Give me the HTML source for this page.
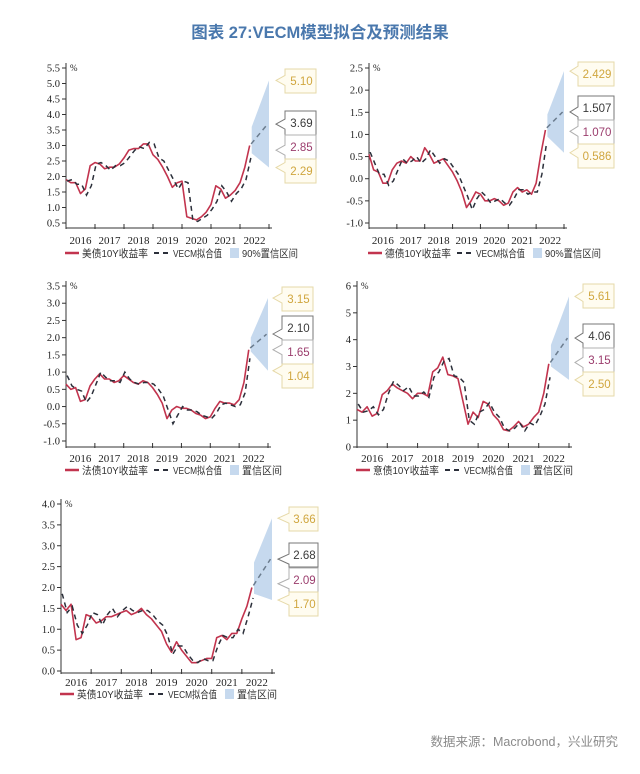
<!DOCTYPE html>
<html><head><meta charset="utf-8">
<style>
html,body{margin:0;padding:0;background:#fff;width:640px;height:774px;overflow:hidden}
svg{display:block}
</style></head>
<body>
<svg id="root" width="640" height="774" xmlns="http://www.w3.org/2000/svg">
<text x="320" y="38" text-anchor="middle" font-family="Liberation Sans, Noto Sans CJK SC, sans-serif" font-size="16.5" font-weight="bold" fill="#4a78ad">图表 27:VECM模型拟合及预测结果</text>
<text x="618" y="746" text-anchor="end" font-family="Liberation Sans, Noto Sans CJK SC, sans-serif" font-size="12.5" fill="#8a8a8a">数据来源：Macrobond，兴业研究</text>
</svg>
<script>
// ---- data (bi-monthly from Jan 2016) ----
const years = ["2016","2017","2018","2019","2020","2021","2022"];
const usActual = [1.9,1.8,1.8,1.45,1.6,2.35, 2.45,2.4,2.25,2.3,2.3,2.4, 2.6,2.85,2.9,2.9,3.05,3.05, 2.7,2.55,2.3,2.0,1.65,1.8, 1.85,0.7,0.65,0.6,0.7,0.85, 1.1,1.7,1.6,1.3,1.4,1.55, 1.8,2.3,3.0];
const usFitted = [1.85,1.9,1.75,1.75,1.4,1.7, 2.4,2.45,2.35,2.2,2.35,2.35, 2.45,2.65,2.85,2.95,2.9,3.1, 3.05,2.6,2.5,2.2,1.9,1.6, 1.85,1.8,0.6,0.55,0.65,0.75, 0.95,1.2,1.7,1.5,1.2,1.45, 1.6,1.9,2.6];
const usBand = [2.75,3.6,2.29,5.10];
const usCallouts = ["5.10","3.69","2.85","2.29"];
const usCallVals = [5.10,3.69,2.85,2.29];

const deActual = [0.55,0.2,0.15,-0.1,-0.1,0.2, 0.35,0.4,0.35,0.5,0.4,0.4, 0.7,0.55,0.35,0.4,0.45,0.3, 0.15,-0.05,-0.3,-0.65,-0.5,-0.3, -0.35,-0.5,-0.5,-0.45,-0.5,-0.6, -0.55,-0.3,-0.2,-0.3,-0.25,-0.35, -0.1,0.55,1.1];
const deFitted = [0.6,0.35,0.1,0.1,-0.15,-0.05, 0.2,0.45,0.35,0.4,0.5,0.35, 0.45,0.65,0.5,0.35,0.45,0.4, 0.25,0.1,-0.15,-0.4,-0.7,-0.45, -0.3,-0.4,-0.55,-0.5,-0.45,-0.55, -0.6,-0.45,-0.25,-0.25,-0.35,-0.3, -0.3,0.1,0.8];
const deBand = [0.95,1.45,0.586,2.429];
const deCallouts = ["2.429","1.507","1.070","0.586"];
const deCallVals = [2.429,1.507,1.070,0.586];

const frActual = [0.65,0.5,0.55,0.15,0.2,0.6, 0.8,0.95,0.8,0.8,0.7,0.75, 0.9,0.8,0.7,0.65,0.75,0.7, 0.55,0.35,0.1,-0.35,-0.1,0.0, -0.05,-0.05,-0.1,-0.2,-0.25,-0.35, -0.3,-0.05,0.15,0.1,0.1,0.05, 0.2,0.7,1.65];
const frFitted = [0.9,0.6,0.5,0.45,0.12,0.3, 0.65,1.0,0.85,0.75,0.75,0.7, 1.0,0.8,0.7,0.65,0.7,0.7, 0.65,0.5,0.3,-0.1,-0.5,-0.25, 0.0,-0.1,-0.1,-0.15,-0.25,-0.3, -0.35,-0.2,0.05,0.1,0.05,0.0, 0.05,0.4,1.4];
const frBand = [1.6,2.0,1.04,3.15];
const frCallouts = ["3.15","2.10","1.65","1.04"];
const frCallVals = [3.15,2.10,1.65,1.04];

const itActual = [1.4,1.3,1.5,1.15,1.25,1.95, 2.1,2.35,2.2,2.1,2.0,1.8, 2.0,2.0,1.9,2.8,2.95,3.35, 2.7,2.65,2.55,1.7,0.85,1.3, 1.1,1.7,1.6,1.2,1.0,0.65, 0.6,0.75,0.95,0.75,0.85,1.1, 1.3,2.0,3.1];
const itFitted = [1.6,1.3,1.35,1.5,1.2,1.4, 2.0,2.45,2.3,2.1,2.25,1.9, 1.9,2.05,1.85,2.6,2.8,3.2, 3.3,2.65,2.6,2.4,1.0,0.85, 1.3,1.4,1.65,1.3,1.1,0.7, 0.6,0.7,0.9,0.6,0.9,0.8, 1.15,1.6,2.6];
const itBand = [3.0,3.8,2.50,5.61];
const itCallouts = ["5.61","4.06","3.15","2.50"];
const itCallVals = [5.61,4.06,3.15,2.50];

const ukActual = [1.6,1.45,1.6,0.75,0.8,1.35, 1.3,1.15,1.2,1.3,1.3,1.35, 1.4,1.45,1.35,1.4,1.5,1.35, 1.25,1.1,0.95,0.65,0.45,0.7, 0.5,0.35,0.2,0.2,0.25,0.3, 0.3,0.8,0.85,0.75,0.9,0.9, 1.25,1.55,2.0];
const ukFitted = [1.85,1.4,1.55,1.1,0.9,1.1, 1.4,1.35,1.1,1.35,1.5,1.3, 1.45,1.55,1.45,1.4,1.45,1.45, 1.35,1.2,1.1,0.85,0.4,0.6, 0.6,0.4,0.25,0.2,0.3,0.25, 0.25,0.6,0.85,0.8,0.8,1.0, 0.9,1.3,1.75];
const ukBand = [1.85,2.6,1.70,3.66];
const ukCallouts = ["3.66","2.68","2.09","1.70"];
const ukCallVals = [3.66,2.68,2.09,1.70];

const NS = "http://www.w3.org/2000/svg";
const root = document.getElementById('root');
function mk(tag, attrs, parent){
  const e = document.createElementNS(NS, tag);
  for (const k in attrs) e.setAttribute(k, attrs[k]);
  (parent||root).appendChild(e);
  return e;
}
const serif = "Liberation Serif, serif";
const cjk = "Liberation Sans, Noto Sans CJK SC, sans-serif";

function drawChart(c){
  const g = mk('g', {});
  
  
  const xs = t => c.x0 + (t - 2016) * (c.x1 - c.x0) / 7;
  const ys = v => c.yTopPix + (c.yTopVal - v) * (c.yBotPix - c.yTopPix) / (c.yTopVal - c.yBotVal);
  const yAx = mk('line', {x1:c.x0, y1:c.yTopPix-5, x2:c.x0, y2:c.axisY, stroke:'#333', 'stroke-width':1}, g);
  
  
  const xAx = mk('line', {x1:c.x0, y1:c.axisY, x2:c.x1+3, y2:c.axisY, stroke:'#333', 'stroke-width':1}, g);
  
  
  for (const v of c.ticks){
    const y = ys(v);
    mk('line', {x1:c.x0-4, y1:y, x2:c.x0, y2:y, stroke:'#333'}, g);
    const tl = mk('text', {x:c.x0-6, y:y+3.5, 'text-anchor':'end', 'font-family':serif, 'font-size':10.5, fill:'#222'}, g);
    
    
    tl.textContent = c.fmt(v);
  }
  const pct = mk('text', {x:c.x0+4, y:c.yTopPix+3, 'font-family':serif, 'font-size':9, fill:'#222'}, g);
  
  
  pct.textContent = '%';
  for (let i=0;i<=7;i++){
    const x = xs(2016+i);
    mk('line', {x1:x, y1:c.axisY-4, x2:x, y2:c.axisY+1, stroke:'#333'}, g);
  }
  years.forEach((yr,i)=>{
    const t = mk('text', {x:xs(2016.5+i), y:c.labelY+4, 'text-anchor':'middle', 'font-family':serif, 'font-size':11, fill:'#222'}, g);
    
    
    t.textContent = yr;
  });
  const n = c.actual.length;
  const tOf = i => 2016 + i/6;
  const tEnd = tOf(n-1);
  const tb0 = tEnd + 0.07, tb1 = 2023;
  const band = mk('polygon', {points:[[xs(tb0),ys(c.band[1])],[xs(tb1),ys(c.band[3])],[xs(tb1),ys(c.band[2])],[xs(tb0),ys(c.band[0])]].map(p=>p.join(',')).join(' '), fill:'#c6d9ee'}, g);
  
  
  const pa = mk('polyline', {points:c.actual.map((v,i)=>xs(tOf(i))+','+ys(v)).join(' '), fill:'none', stroke:'#c2344e', 'stroke-width':1.6, 'stroke-linejoin':'round'}, g);
  
  
  const pf = mk('polyline', {points:c.fitted.map((v,i)=>xs(tOf(i)+0.04)+','+ys(v)).join(' '), fill:'none', stroke:'#2b2f3a', 'stroke-width':1.5, 'stroke-dasharray':'5,4'}, g);
  
  
  const fc = mk('line', {x1:xs(tEnd+0.05), y1:ys(c.actual[n-1]+0.05), x2:xs(2022.95), y2:ys(c.callVals[1]), stroke:'#6b7c8e', 'stroke-width':1.5, 'stroke-dasharray':'5,4'}, g);
  
  
  const styles = [['#d0a63e','#e6d9a8','#fffcf0'],['#3a3a3a','#777','#fff'],['#9b3d6d','#b0b0b0','#fff'],['#d0a63e','#e6d9a8','#fffcf0']];
  c.callouts.forEach((lab,i)=>{
    const top = c.tops[i], h = 24, bx = c.bx, w = c.bw;
    let ay = ys(c.callVals[i]);
    ay = Math.max(top+6, Math.min(top+h-6, ay));
    const d = `M${c.tip},${ay} L${bx},${ay-5} L${bx},${top} L${bx+w},${top} L${bx+w},${top+h} L${bx},${top+h} L${bx},${ay+5} Z`;
    const p = mk('path', {d:d, fill:styles[i][2], stroke:styles[i][1], 'stroke-width':1}, g);
    
    
    const t = mk('text', {x:bx+w/2+1, y:top+16, 'text-anchor':'middle', 'font-family':cjk, 'font-size':11.5, fill:styles[i][0]}, g);
    
    
    t.textContent = lab;
  });
  const ly = c.legendY, lx = c.x0 - 1;
  mk('line', {x1:lx, y1:ly, x2:lx+14, y2:ly, stroke:'#c2344e', 'stroke-width':2.5}, g);
  const l1 = mk('text', {x:lx+17, y:ly+4, 'font-family':cjk, 'font-size':10.5, fill:'#333', textLength:66, lengthAdjust:'spacingAndGlyphs'}, g);
  
  
  l1.textContent = c.legendName;
  const l2x = lx + 89;
  mk('line', {x1:l2x, y1:ly, x2:l2x+17, y2:ly, stroke:'#2b2f3a', 'stroke-width':2, 'stroke-dasharray':'5,4'}, g);
  const l2 = mk('text', {x:l2x+19, y:ly+4, 'font-family':cjk, 'font-size':10.5, fill:'#333', textLength:49, lengthAdjust:'spacingAndGlyphs'}, g);
  
  
  l2.textContent = 'VECM拟合值';
  const l3x = lx + 165;
  mk('rect', {x:l3x, y:ly-5, width:9, height:10, fill:'#c6d9ee'}, g);
  const l3 = mk('text', {x:l3x+12, y:ly+4, 'font-family':cjk, 'font-size':10.5, fill:'#333', textLength:c.bandLen, lengthAdjust:'spacingAndGlyphs'}, g);
  
  
  l3.textContent = c.bandName;
}
const f1 = v => v.toFixed(1);
const f0 = v => v.toFixed(0);
const ticksA = [0.5,1,1.5,2,2.5,3,3.5,4,4.5,5,5.5];
const ticksB = [-1,-0.5,0,0.5,1,1.5,2,2.5];
const ticksC = [-1,-0.5,0,0.5,1,1.5,2,2.5,3,3.5];
const ticksD = [0,1,2,3,4,5,6];
const ticksE = [0,0.5,1,1.5,2,2.5,3,3.5,4];

drawChart({name:'us-chart', actual:usActual, fitted:usFitted, band:usBand, callouts:usCallouts, callVals:usCallVals,
  x0:66, x1:269, yTopPix:68, yTopVal:5.5, yBotPix:223, yBotVal:0.5, axisY:228, ticks:ticksA, fmt:f1,
  labelY:240, legendY:253, bx:285, bw:31, tip:276, tops:[69,111,135,159], legendName:'美债10Y收益率', bandName:'90%置信区间', bandLen:56});
drawChart({name:'germany-chart', actual:deActual, fitted:deFitted, band:deBand, callouts:deCallouts, callVals:deCallVals,
  x0:369, x1:564, yTopPix:68, yTopVal:2.5, yBotPix:223, yBotVal:-1.0, axisY:228, ticks:ticksB, fmt:f1,
  labelY:240, legendY:253, bx:578, bw:36, tip:570, tops:[62,96,120,144], legendName:'德债10Y收益率', bandName:'90%置信区间', bandLen:56});
drawChart({name:'france-chart', actual:frActual, fitted:frFitted, band:frBand, callouts:frCallouts, callVals:frCallVals,
  x0:66, x1:268, yTopPix:286, yTopVal:3.5, yBotPix:441, yBotVal:-1.0, axisY:447, ticks:ticksC, fmt:f1,
  labelY:458, legendY:470, bx:282, bw:31, tip:273, tops:[287,316,340,364], legendName:'法债10Y收益率', bandName:'置信区间', bandLen:40});
drawChart({name:'italy-chart', actual:itActual, fitted:itFitted, band:itBand, callouts:itCallouts, callVals:itCallVals,
  x0:357, x1:569, yTopPix:286, yTopVal:6, yBotPix:447, yBotVal:0, axisY:447, ticks:ticksD, fmt:f0,
  labelY:458, legendY:470, bx:583, bw:31, tip:575, tops:[284,324,348,372], legendName:'意债10Y收益率', bandName:'置信区间', bandLen:40});
drawChart({name:'uk-chart', actual:ukActual, fitted:ukFitted, band:ukBand, callouts:ukCallouts, callVals:ukCallVals,
  x0:61, x1:272, yTopPix:504, yTopVal:4.0, yBotPix:671, yBotVal:0, axisY:673, ticks:ticksE, fmt:f1,
  labelY:682, legendY:694, bx:289, bw:29, tip:278, tops:[507,543,568,592], legendName:'英债10Y收益率', bandName:'置信区间', bandLen:40});
</script>
</body></html>
